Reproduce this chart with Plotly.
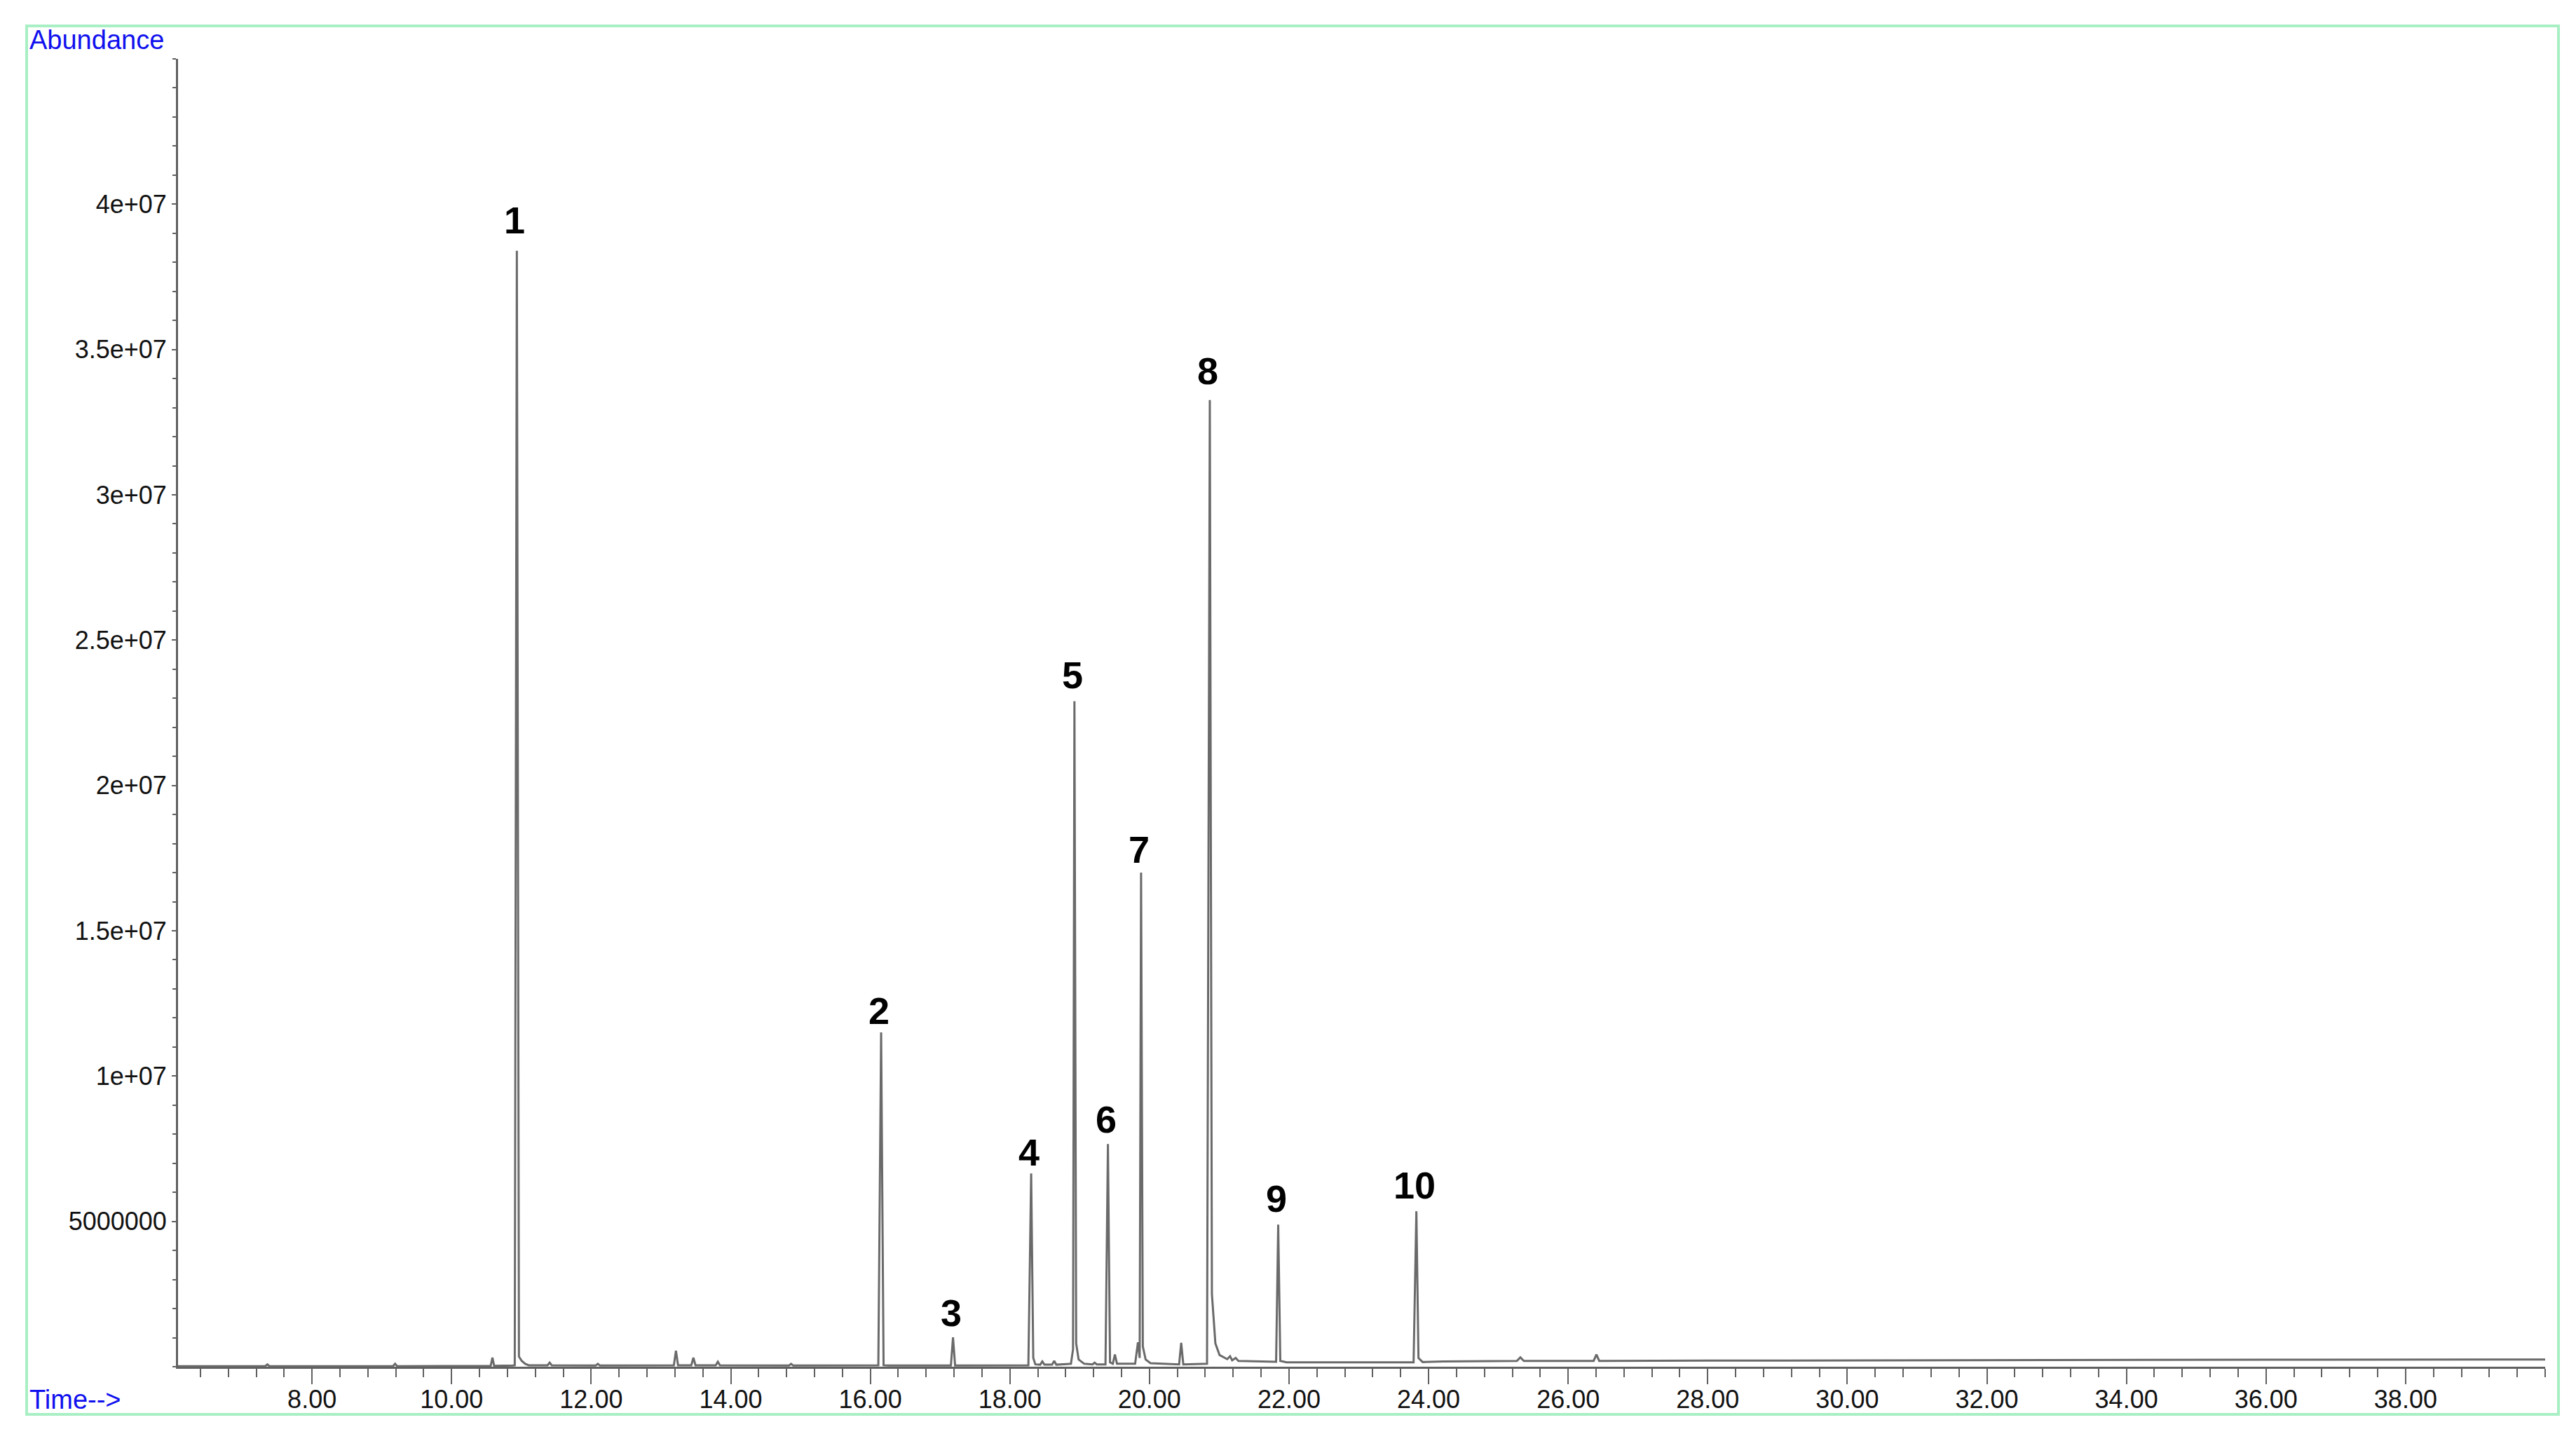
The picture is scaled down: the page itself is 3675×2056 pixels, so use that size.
import plotly.graph_objects as go

# ---- data ----
# retention time (min) and abundance (millions of counts) of the TIC trace
rt = [6.08, 7.33, 7.36, 7.39, 9.16, 9.19, 9.22, 10.51, 10.56, 10.585, 10.61, 10.875,
      10.905, 10.935, 10.965, 11.005, 11.055, 11.105, 11.375, 11.405, 11.435, 12.065, 12.095, 12.125,
      13.185, 13.215, 13.245, 13.435, 13.465, 13.495, 13.785, 13.815, 13.845, 14.835, 14.865, 14.895,
      16.115, 16.155, 16.19, 16.265, 17.155, 17.185, 17.215, 18.265, 18.305, 18.335, 18.365,
      18.435, 18.465, 18.495, 18.605, 18.635, 18.665, 18.875, 18.905, 18.925, 18.95, 18.985, 19.065,
      19.185, 19.215, 19.245, 19.37, 19.405, 19.435, 19.475, 19.505, 19.535, 19.795, 19.835, 19.86,
      19.88, 19.905, 19.945, 20.015, 20.425, 20.455, 20.485, 20.825, 20.865, 20.895, 20.945, 21.005,
      21.115, 21.155, 21.185, 21.235, 21.275, 21.515, 21.815, 21.845, 21.875, 21.965, 23.785, 23.825,
      23.855, 23.915, 24.215, 25.265, 25.315, 25.365, 26.365, 26.405, 26.445, 28.00, 30.00, 33.00,
      36.00, 40.00]
abund_m = [0.02, 0.02, 0.08, 0.02, 0.02, 0.10, 0.02, 0.03, 0.03, 0.31, 0.03, 0.04,
           0.05, 38.4, 0.35, 0.20, 0.10, 0.05, 0.05, 0.14, 0.05, 0.04, 0.10, 0.04,
           0.05, 0.55, 0.05, 0.05, 0.31, 0.05, 0.05, 0.17, 0.05, 0.04, 0.10, 0.04,
           0.05, 11.5, 0.05, 0.04, 0.04, 1.01, 0.04, 0.05, 6.65, 0.30, 0.08,
           0.07, 0.18, 0.07, 0.07, 0.20, 0.07, 0.10, 0.60, 22.9, 0.80, 0.25, 0.10,
           0.08, 0.14, 0.08, 0.08, 7.66, 0.15, 0.10, 0.42, 0.10, 0.10, 0.84, 0.30,
           17.0, 0.70, 0.25, 0.12, 0.08, 0.82, 0.08, 0.10, 33.26, 2.50, 0.80, 0.40,
           0.26, 0.36, 0.22, 0.30, 0.20, 0.18, 0.17, 4.89, 0.20, 0.15, 0.15, 5.35,
           0.30, 0.16, 0.18, 0.20, 0.32, 0.20, 0.20, 0.42, 0.20, 0.21, 0.22, 0.23,
           0.24, 0.25]

peak_labels = ["1", "2", "3", "4", "5", "6", "7", "8", "9", "10"]
peak_rt = [10.935, 16.155, 17.185, 18.305, 18.925, 19.405, 19.88, 20.865, 21.845, 23.825]
peak_height_m = [38.4, 11.5, 1.01, 6.65, 22.9, 7.66, 17.0, 33.26, 4.89, 5.35]

x_major = [8, 10, 12, 14, 16, 18, 20, 22, 24, 26, 28, 30, 32, 34, 36, 38]
x_major_text = ["8.00", "10.00", "12.00", "14.00", "16.00", "18.00", "20.00", "22.00",
                "24.00", "26.00", "28.00", "30.00", "32.00", "34.00", "36.00", "38.00"]
y_major = [5e6, 1e7, 1.5e7, 2e7, 2.5e7, 3e7, 3.5e7, 4e7]
y_major_text = ["5000000", "1e+07", "1.5e+07", "2e+07", "2.5e+07", "3e+07", "3.5e+07", "4e+07"]

# ---- layout geometry (pixels) ----
W, H = 3675, 2056
PL, PR, PT, PB = 254, 3631, 84, 1950
label_yshift = [12, -1, 3, -2, 5, 3, 1, 10, 5, 5]


def px(xp):
    return (xp - PL) / (PR - PL)


def py(yp):
    return (PB - yp) / (PB - PT)


font_fam = "Liberation Sans, Arial, sans-serif"

abund = [v * 1e6 for v in abund_m]
peak_height = [v * 1e6 for v in peak_height_m]

fig = go.Figure()
fig.add_trace(go.Scatter(x=rt, y=abund, mode="lines",
                         line=dict(color="#6a6a6a", width=3),
                         showlegend=False, hoverinfo="skip"))

for lab, t, h, ys in zip(peak_labels, peak_rt, peak_height, label_yshift):
    fig.add_annotation(x=t, y=h, xref="x", yref="y", text="<b>%s</b>" % lab,
                       showarrow=False, xanchor="center", yanchor="bottom",
                       yshift=ys, xshift=-3,
                       font=dict(family=font_fam, size=54, color="black"))

fig.add_annotation(x=px(40), y=py(57), xref="paper", yref="paper", text="Abundance",
                   showarrow=False, xanchor="left", yanchor="middle",
                   font=dict(family=font_fam, size=38, color="#1010ee"))
fig.add_annotation(x=px(40), y=py(1997), xref="paper", yref="paper", text="Time-->",
                   showarrow=False, xanchor="left", yanchor="middle",
                   font=dict(family=font_fam, size=38, color="#1010ee"))

fig.add_shape(type="rect", xref="paper", yref="paper",
              x0=px(38), x1=px(3650), y0=py(2018), y1=py(37),
              line=dict(color="#a8efc4", width=4), fillcolor="rgba(0,0,0,0)")

fig.update_xaxes(range=[6.08, 40], showgrid=False, zeroline=False,
                 showline=True, linecolor="#606060", linewidth=3,
                 ticks="outside", ticklen=22, tickwidth=2, tickcolor="#606060",
                 tickvals=x_major, ticktext=x_major_text, ticklabelstandoff=-9,
                 tickfont=dict(family=font_fam, size=36, color="#111111"),
                 minor=dict(dtick=0.4, tick0=0, ticks="outside", ticklen=12,
                            tickwidth=2, tickcolor="#606060"))
fig.update_yaxes(range=[0, 45e6], showgrid=False, zeroline=False,
                 showline=True, linecolor="#606060", linewidth=3,
                 ticks="outside", ticklen=6, tickwidth=2, tickcolor="#606060",
                 tickvals=y_major, ticktext=y_major_text,
                 tickfont=dict(family=font_fam, size=36, color="#111111"),
                 minor=dict(dtick=1e6, tick0=0, ticks="outside", ticklen=5,
                            tickwidth=2, tickcolor="#606060"))

fig.update_layout(width=W, height=H, autosize=False,
                  margin=dict(l=PL, r=W - PR, t=PT, b=H - PB, pad=0),
                  paper_bgcolor="white", plot_bgcolor="white")

fig.write_html("out.html", config={"displayModeBar": False},
               post_script="document.body.style.margin='0';document.body.style.overflow='hidden';")
